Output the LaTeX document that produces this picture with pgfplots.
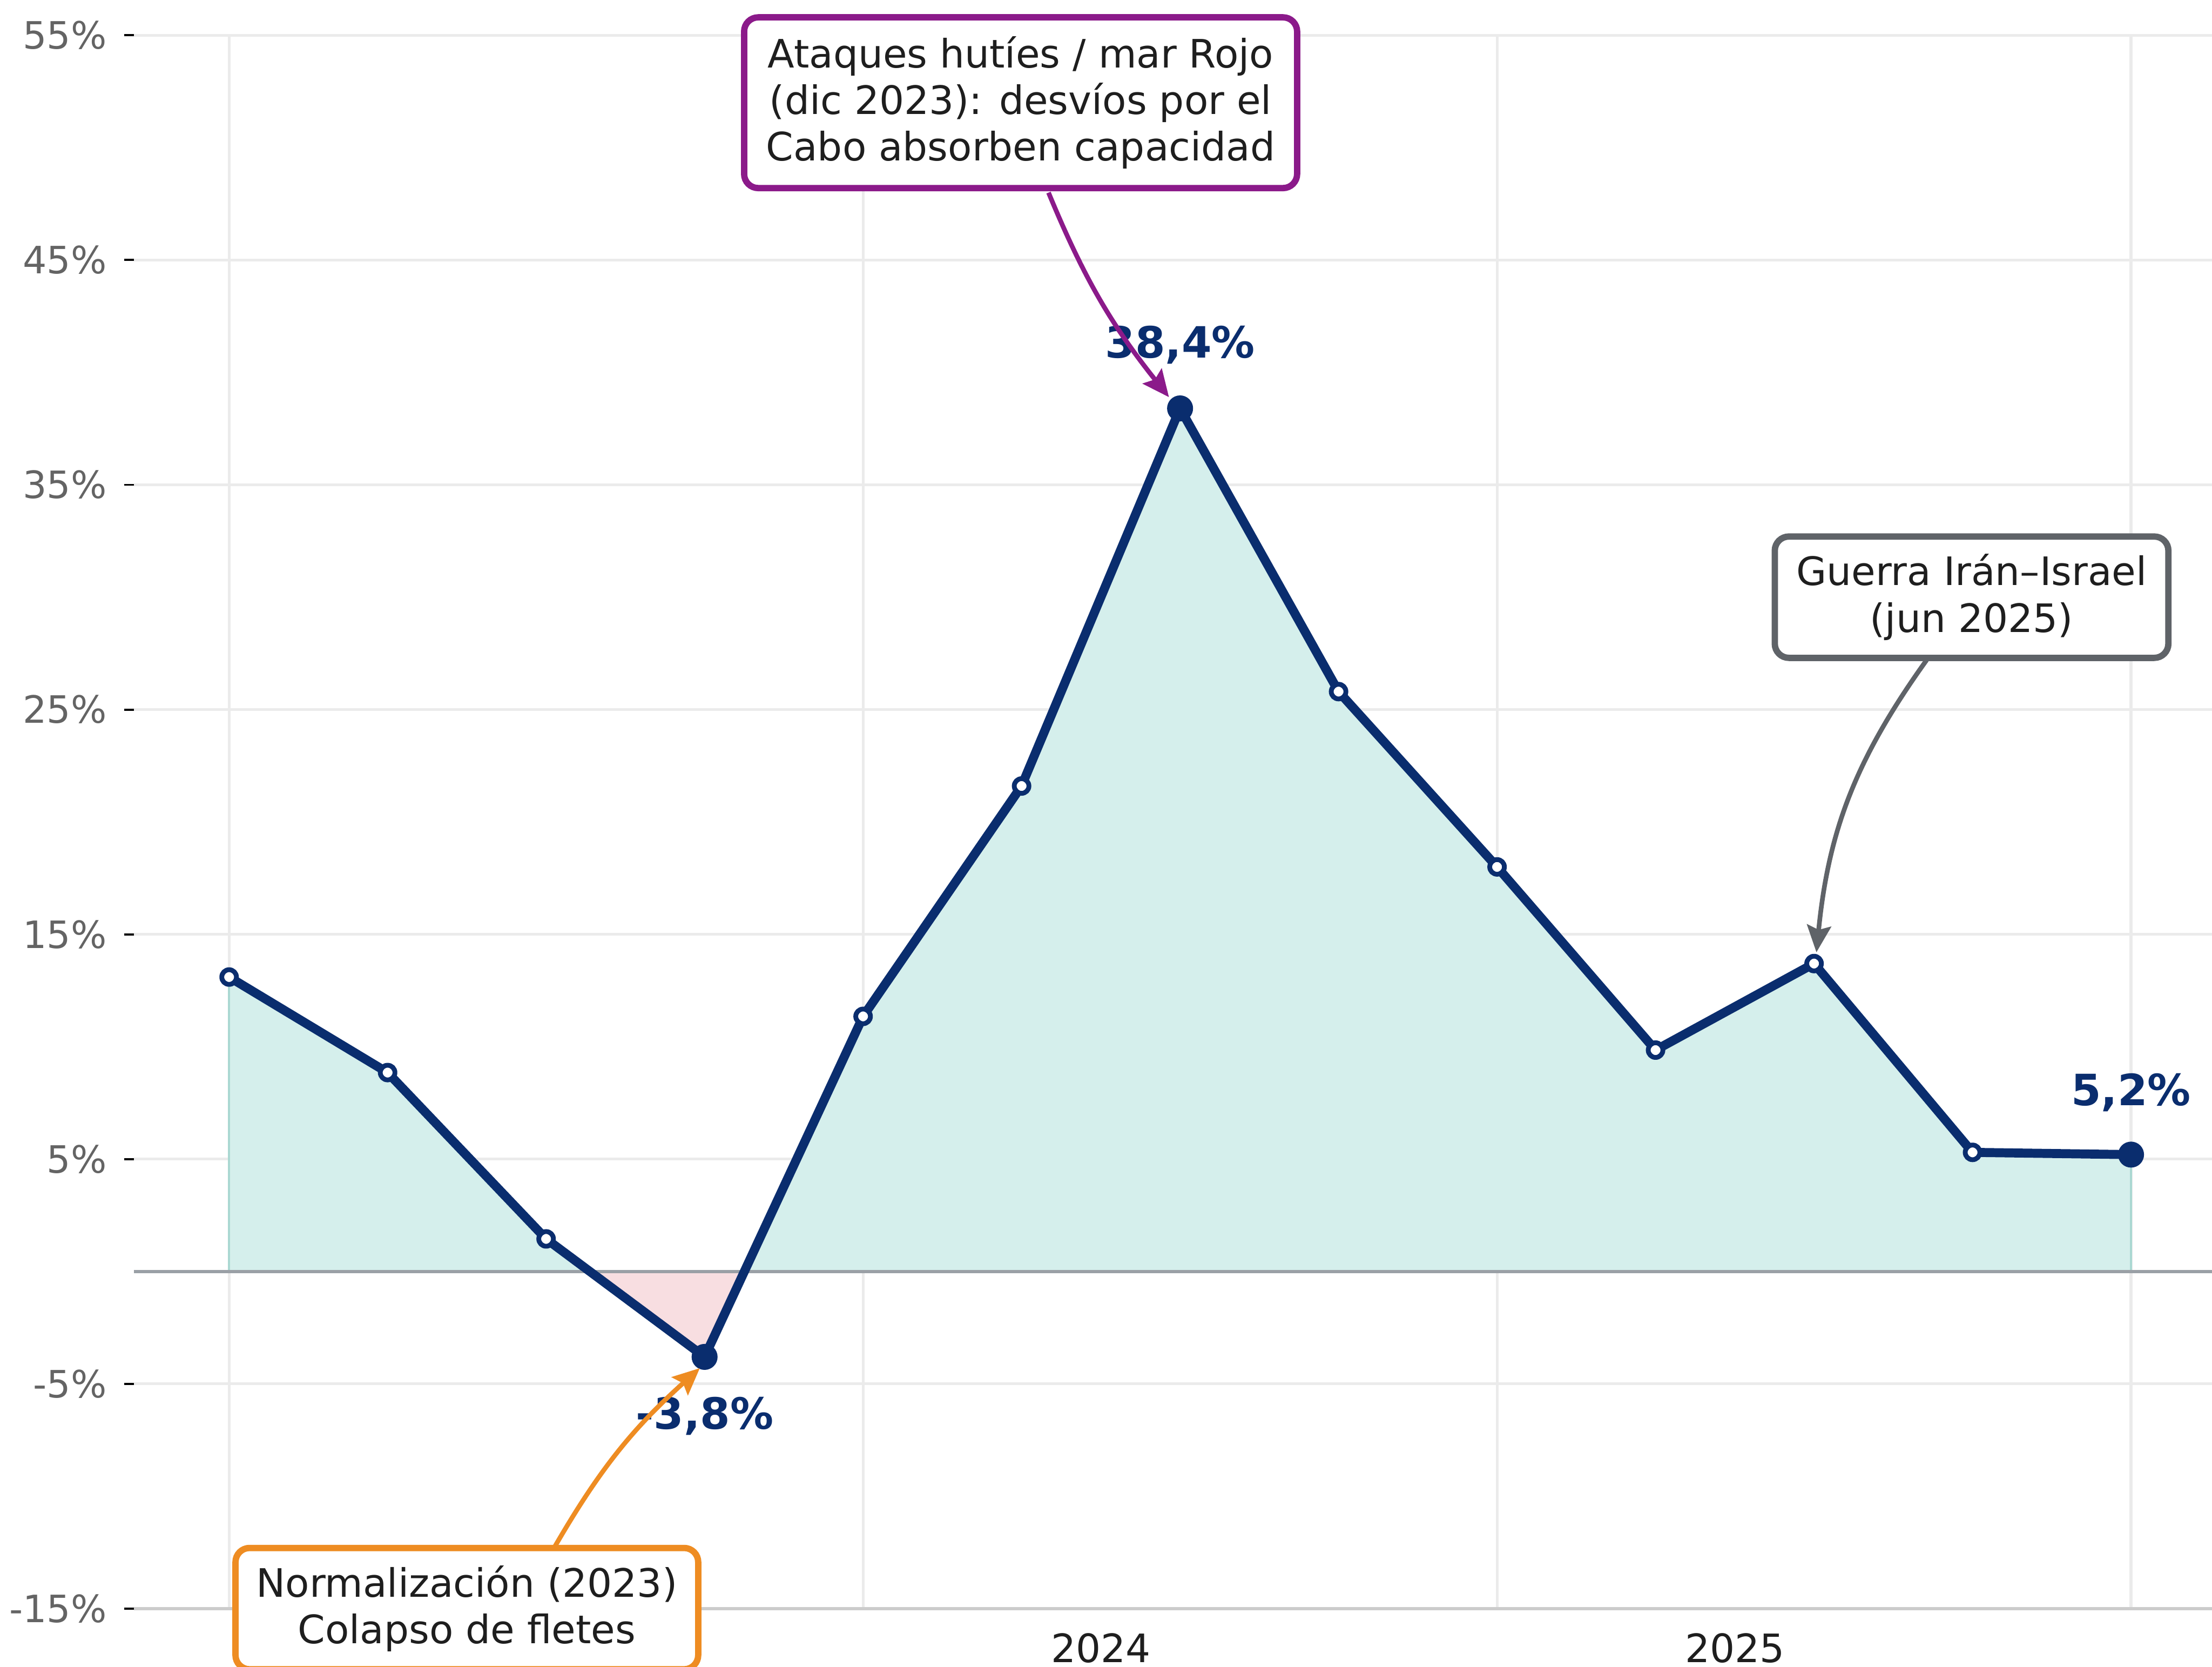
\documentclass[border=0pt]{standalone}
\usepackage{fontspec}
\setmainfont{DejaVu Sans}
\usepackage{pgfplots}
\pgfplotsset{compat=1.18}
\usepgfplotslibrary{fillbetween}
\usetikzlibrary{arrows.meta}
\definecolor{navy}{RGB}{10,45,110}
\definecolor{tealfill}{RGB}{213,239,236}
\definecolor{tealedge}{RGB}{170,216,210}
\definecolor{pinkfill}{RGB}{248,222,225}
\definecolor{annpurple}{RGB}{139,26,138}
\definecolor{anngrey}{RGB}{95,99,104}
\definecolor{annorange}{RGB}{238,140,34}
\definecolor{gridgrey}{RGB}{235,235,235}
\definecolor{zerogrey}{RGB}{154,160,166}
\definecolor{spinegrey}{RGB}{204,204,204}
\definecolor{tickgrey}{RGB}{100,100,100}
\definecolor{darktext}{RGB}{30,30,30}
\pgfplotstableread{
x y
0 13.1
1 8.85
2 1.45
3 -3.8
4 11.35
5 21.6
6 38.4
7 25.8
8 18.0
9 9.85
10 13.7
11 5.3
12 5.2
}\datatab
\begin{document}
\begin{tikzpicture}
\begin{axis}[
  at={(0,0)}, anchor=south west,
  scale only axis, width=14.83cm, height=11.15cm,
  xmin=-0.6, xmax=12.6, ymin=-15, ymax=55,
  clip=false,
  axis line style={draw=none},
  ytick={-15,-5,...,55},
  yticklabel={\pgfmathprintnumber{\tick}\%},
  xtick={1.5,5.5,9.5}, xticklabels={2023,2024,2025},
  minor xtick={0,4,8,12},
  xminorgrids=true, ymajorgrids=true, xmajorgrids=false,
  grid style={gridgrey, line width=0.02cm},
  minor grid style={gridgrey, line width=0.02cm},
  tick align=outside,
  ytick pos=left, xtick pos=bottom,
  major tick length=0.07cm,
  minor tick length=0pt,
  xtick style={draw=none},
  ytick style={black, line width=0.015cm},
  /pgf/number format/assume math mode=true,
  yticklabel style={font=\fontsize{7.6}{9}\selectfont, text=tickgrey},
  xticklabel style={font=\fontsize{7.9}{9}\selectfont, text=darktext, yshift=0.02cm},
]
\addplot[name path=A, draw=none, no marks] table[x=x,y=y] {\datatab};
\addplot[name path=B, draw=none, no marks] coordinates {(0,0) (12,0)};
\addplot[fill=tealfill, draw=none] fill between[of=A and B, split,
   every segment no 1/.style={fill=pinkfill}];
\addplot[tealedge, line width=0.015cm, no marks] coordinates {(0,0) (0,13.1)};
\addplot[tealedge, line width=0.015cm, no marks] coordinates {(12,0) (12,5.2)};
\addplot[zerogrey, line width=0.025cm, no marks] coordinates {(-0.6,0) (12.6,0)};
\addplot[spinegrey, line width=0.02cm, no marks] coordinates {(-0.6,-15) (12.6,-15)};
\addplot[navy, line width=0.064cm, line join=round, mark=*, mark size=0.052cm,
  mark options={fill=white, draw=navy, line width=0.034cm}] table[x=x,y=y] {\datatab};
\addplot[only marks, mark=*, mark size=0.085cm, mark options={fill=navy, draw=navy}]
  coordinates {(3,-3.8) (6,38.4) (12,5.2)};
\node[font=\bfseries\fontsize{8.7}{10}\selectfont, text=navy, yshift=0.45cm] at (axis cs:6,38.4) {38,4\%};
\node[font=\bfseries\fontsize{8.7}{10}\selectfont, text=navy, yshift=-0.42cm] at (axis cs:3,-3.8) {-3,8\%};
\node[font=\bfseries\fontsize{8.7}{10}\selectfont, text=navy, yshift=0.44cm] at (axis cs:12,5.2) {5,2\%};
\coordinate (pBox) at (axis cs:4.994,52.0);
\coordinate (pS) at (axis cs:5.17,48.0);
\coordinate (pE) at (axis cs:5.93,38.9);
\coordinate (gBox) at (axis cs:10.994,30.0);
\coordinate (gS) at (axis cs:10.71,27.2);
\coordinate (gE) at (axis cs:10.015,14.2);
\coordinate (oBox) at (axis cs:1.5,-15.0);
\coordinate (oS) at (axis cs:2.05,-12.3);
\coordinate (oE) at (axis cs:2.97,-4.3);
\end{axis}
\draw[annpurple, line width=0.033cm, -{Stealth[length=0.19cm,width=0.17cm,inset=0.03cm]}] (pS) to[bend right=8] (pE);
\draw[anngrey, line width=0.033cm, -{Stealth[length=0.19cm,width=0.17cm,inset=0.03cm]}] (gS) to[bend right=15] (gE);
\draw[annorange, line width=0.033cm, -{Stealth[length=0.19cm,width=0.17cm,inset=0.03cm]}] (oS) to[bend left=9] (oE);
\node[draw=annpurple, fill=white, line width=0.045cm, rounded corners=0.1cm, align=center,
  minimum width=3.92cm, minimum height=1.21cm, inner sep=0pt, text=darktext,
  font=\fontsize{7.9}{9.4}\selectfont] at (pBox)
  {Ataques hutíes / mar Rojo\\(dic 2023): desvíos por el\\Cabo absorben capacidad};
\node[draw=anngrey, fill=white, line width=0.045cm, rounded corners=0.1cm, align=center,
  minimum width=2.79cm, minimum height=0.86cm, inner sep=0pt, text=darktext,
  font=\fontsize{7.9}{9.4}\selectfont] at (gBox)
  {Guerra Irán–Israel\\(jun 2025)};
\node[draw=annorange, fill=white, line width=0.045cm, rounded corners=0.1cm, align=center,
  minimum width=3.28cm, minimum height=0.86cm, inner sep=0pt, text=darktext,
  font=\fontsize{7.9}{9.4}\selectfont] at (oBox)
  {Normalización (2023)\\Colapso de fletes};
\pgfresetboundingbox
\path[use as bounding box] (-0.95,-0.41) rectangle (14.73,11.40);
\end{tikzpicture}
\end{document}
